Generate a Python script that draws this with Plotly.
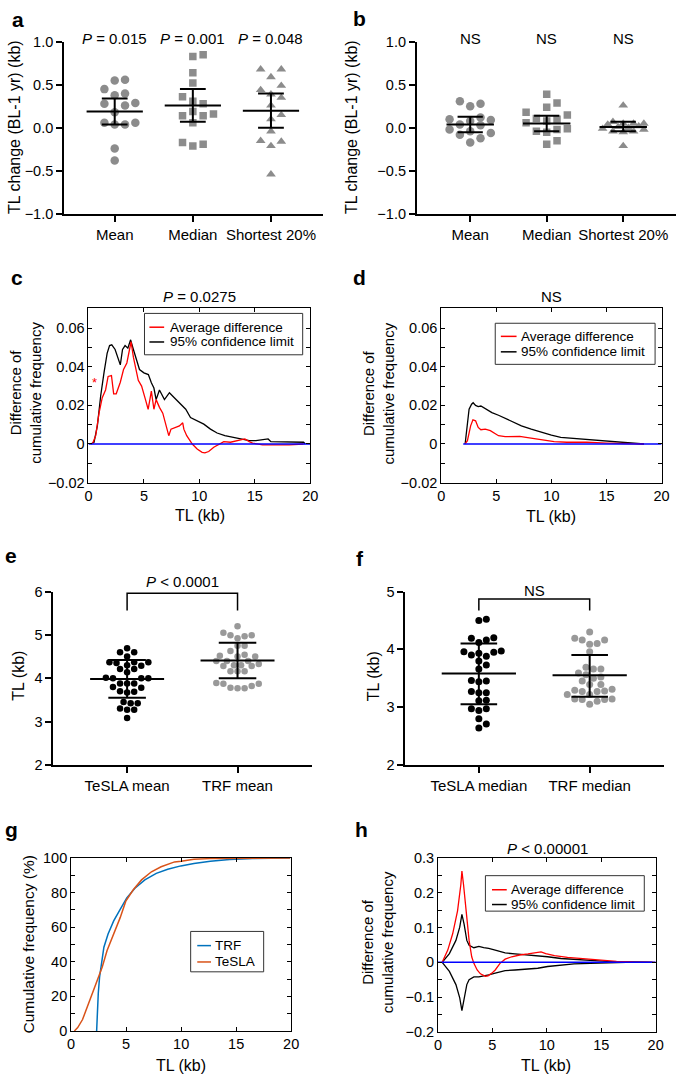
import plotly.graph_objects as go

W, H = 685, 1081
FONT = "Liberation Sans, Arial, sans-serif"
GREY = "#8c8c8c"

# ---------------- data ----------------
ab_categories = ["Mean", "Median", "Shortest 20%"]
a_mean = [0.56, 0.55, 0.45, 0.40, 0.38, 0.29, 0.26, 0.28, 0.18, 0.06, 0.04, 0.04, 0.06, -0.24, -0.38]
a_median = [0.85, 0.83, 0.64, 0.52, 0.36, 0.31, 0.28, 0.16, 0.14, 0.14, 0.19, 0.06, -0.17, -0.21, -0.19]
a_short = [0.68, 0.68, 0.59, 0.49, 0.44, 0.39, 0.35, 0.26, 0.15, 0.10, -0.04, -0.16, -0.21, -0.15, -0.54]
a_center = [0.19, 0.26, 0.20]
a_low = [0.04, 0.07, 0.00]
a_high = [0.34, 0.45, 0.40]
a_pvals = ["<i>P</i> = 0.015", "<i>P</i> = 0.001", "<i>P</i> = 0.048"]

b_mean = [0.31, 0.28, 0.25, 0.12, 0.10, 0.09, 0.08, 0.03, 0.04, -0.02, -0.04, -0.06, -0.08, -0.12, -0.17]
b_median = [0.39, 0.29, 0.24, 0.18, 0.15, 0.11, 0.10, 0.08, 0.06, -0.01, -0.04, -0.02, -0.05, -0.15, -0.19]
b_short = [0.26, 0.07, 0.05, 0.05, 0.05, 0.04, 0.02, 0.01, 0.00, -0.01, -0.02, -0.04, -0.05, -0.04, -0.21]
b_center = [0.04, 0.05, 0.01]
b_low = [-0.05, -0.04, -0.04]
b_high = [0.13, 0.14, 0.07]
b_pvals = ["NS", "NS", "NS"]

c_avg_x = [0.35, 0.65, 0.95, 1.24, 1.54, 1.77, 2.07, 2.27, 2.5, 2.87, 3.16, 3.46, 3.84, 4.05, 4.49, 4.79, 5.14,
           5.38, 5.67, 5.9, 6.1, 6.4, 6.7, 7.0, 7.24, 7.44, 7.9, 8.2, 8.5, 8.6, 8.86, 9.07, 9.36, 9.8, 10.25, 10.5,
           10.84, 11.3, 11.7, 12.2, 12.8, 13.2, 13.6, 14.1, 14.5, 14.8, 15.7, 16.6, 18.1, 19.4]
c_avg_y = [0, 0.0043, 0.016, 0.024, 0.028, 0.035, 0.0355, 0.026, 0.026, 0.032, 0.0386, 0.042, 0.053, 0.045, 0.033,
           0.030, 0.023, 0.018, 0.0274, 0.018, 0.023, 0.019, 0.016, 0.010, 0.0043, 0.0077, 0.0086, 0.0094, 0.011,
           0.0077, 0.0043, 0.0026, 0, -0.0026, -0.0043, -0.0046, -0.0039, -0.0017, -0.0005, 0.0012, 0.0009, 0.0015,
           0.0022, 0.0026, 0.0012, 0.0005, -0.0005, -0.0005, -0.0005, 0]
c_ci_x = [0.2, 0.5, 0.8, 1.1, 1.4, 1.68, 1.9, 2.1, 2.4, 2.7, 2.87, 3.07, 3.3, 3.55, 3.8, 4.05, 4.34, 4.6, 5.0, 5.4,
          5.67, 5.9, 6.1, 6.4, 6.85, 7.3, 7.74, 8.33, 8.77, 9.2, 9.8, 10.4, 11.0, 11.6, 12.3, 13.06, 13.9, 14.5, 15.1,
          15.7, 16.2, 16.45, 17.5, 19.0, 19.4, 19.55]
c_ci_y = [0, 0.0009, 0.0094, 0.025, 0.037, 0.047, 0.051, 0.0514, 0.049, 0.044, 0.041, 0.049, 0.051, 0.0497, 0.054,
          0.049, 0.044, 0.0386, 0.0369, 0.036, 0.0317, 0.029, 0.023, 0.028, 0.023, 0.0266, 0.024, 0.0206, 0.018,
          0.0137, 0.012, 0.0103, 0.0077, 0.0057, 0.0043, 0.0034, 0.0026, 0.0017, 0.0017, 0.0022, 0.0026, 0.0012,
          0.0012, 0.0012, 0.0009, 0]

d_avg_x = [2.17, 2.38, 2.67, 2.88, 3.12, 3.36, 3.6, 4.0, 4.46, 4.84, 5.2, 5.8, 6.4, 7.13, 7.7, 8.5, 9.36, 10.25,
           11.4, 13.2, 15.0, 16.8, 18.4]
d_avg_y = [0, 0.0017, 0.0094, 0.0125, 0.012, 0.0086, 0.0074, 0.0077, 0.0069, 0.0055, 0.0043, 0.0038, 0.0038, 0.0039,
           0.0034, 0.0026, 0.0021, 0.0012, 0.0009, 0.0009, 0.0005, 0.0003, 0]
d_ci_x = [2.17, 2.38, 2.53, 2.76, 2.9, 3.12, 3.36, 3.6, 4.0, 4.6, 5.2, 5.8, 6.4, 7.28, 8.17, 9.06, 10.0, 10.85, 12.0,
          13.2, 14.4, 15.9, 17.4, 18.4]
d_ci_y = [0, 0.0094, 0.018, 0.0206, 0.0214, 0.020, 0.0194, 0.0197, 0.0183, 0.0163, 0.0149, 0.0132, 0.0115, 0.0094,
          0.0077, 0.006, 0.0046, 0.0034, 0.0029, 0.0026, 0.0021, 0.0012, 0.0007, 0]

e_categories = ["TeSLA mean", "TRF mean"]
e_tesla = [4.69, 4.60, 4.60, 4.50, 4.37, 4.35, 4.37, 4.37, 4.29, 4.30, 4.21, 4.14, 4.21, 4.01, 4.00, 4.00, 4.00,
           3.88, 3.88, 3.88, 3.80, 3.70, 3.67, 3.69, 3.78, 3.42, 3.42, 3.45, 3.27, 3.27, 3.30, 3.08]
e_trf = [5.20, 4.99, 4.97, 4.99, 5.05, 4.92, 4.75, 4.75, 4.54, 4.50, 4.63, 4.50, 4.52, 4.40, 4.40, 4.40, 4.30, 4.33,
         4.28, 4.30, 4.28, 4.16, 4.16, 4.16, 3.89, 3.87, 3.87, 3.82, 3.78, 3.77, 3.77]
e_center = [3.98, 4.41]
e_low = [3.55, 4.00]
e_high = [4.42, 4.82]

f_categories = ["TeSLA median", "TRF median"]
f_tesla = [4.52, 4.50, 4.19, 4.20, 4.12, 4.16, 3.97, 3.95, 3.93, 3.88, 3.90, 3.96, 3.73, 3.80, 3.66, 3.45, 3.44,
           3.46, 3.25, 3.25, 3.27, 3.11, 3.12, 2.97, 2.94, 2.97, 2.80, 2.71, 2.64]
f_trf = [4.30, 4.16, 4.16, 4.19, 4.09, 4.10, 3.96, 3.66, 3.66, 3.69, 3.59, 3.56, 3.52, 3.50, 3.45, 3.39, 3.39, 3.31,
         3.29, 3.28, 3.27, 3.22, 3.27, 3.22, 3.14, 3.13, 3.13, 3.14, 3.05, 3.10]
f_center = [3.58, 3.55]
f_low = [3.05, 3.18]
f_high = [4.10, 3.90]

g_trf_x = [2.32, 2.38, 2.47, 2.59, 2.77, 2.98, 3.36, 3.87, 4.46, 5.06, 5.8, 6.7, 7.74, 8.78, 9.97, 11.16, 12.65,
           14.4, 16.5, 19.9]
g_trf_y = [0, 10.4, 21.8, 31.3, 40.8, 48.4, 56, 63.6, 70.2, 76.9, 82.5, 87.3, 91.1, 93.5, 95.4, 96.8, 98.1, 99.1,
           99.6, 100]
g_tesla_x = [0.3, 0.6, 1.04, 1.49, 1.93, 2.38, 2.83, 3.27, 3.87, 4.46, 4.97, 5.65, 6.4, 7.3, 8.18, 9.4, 10.0, 11.16,
             12.6, 19.9]
g_tesla_y = [0, 1.9, 6.6, 14.2, 21.8, 29.4, 37, 46.5, 56, 65.5, 75, 81.6, 87.3, 92, 94.9, 97.7, 98.1, 99.2, 99.6,
             100]

h_avg_x = [0.39, 0.9, 1.35, 1.8, 2.1, 2.2, 2.35, 2.62, 2.86, 3.1, 3.3, 3.6, 3.9, 4.36, 4.6, 4.96, 5.26, 5.7, 6.17,
           6.77, 7.5, 8.27, 9.0, 9.47, 9.9, 10.7, 11.9, 13.4, 14.9, 16.4, 17.9, 20.0]
h_avg_y = [0, 0.035, 0.082, 0.148, 0.223, 0.262, 0.223, 0.129, 0.063, 0.016, -0.003, -0.022, -0.033, -0.040,
           -0.039, -0.031, -0.022, -0.003, 0.009, 0.016, 0.021, 0.024, 0.027, 0.030, 0.025, 0.019, 0.014, 0.010,
           0.0066, 0.003, 0.001, 0]
h_ci_x = [0.39, 1.05, 1.65, 2.0, 2.2, 2.4, 2.65, 2.86, 3.3, 3.76, 4.2, 4.66, 5.26, 6.17, 7.07, 7.97, 9.17, 10.07,
          11.3, 12.5, 14.0, 15.5, 17.3, 19.7]
h_ci_up = [0, 0.025, 0.063, 0.101, 0.138, 0.11, 0.063, 0.049, 0.042, 0.046, 0.042, 0.040, 0.035, 0.027, 0.024, 0.022,
           0.020, 0.016, 0.011, 0.0085, 0.0056, 0.003, 0.001, 0]
h_ci_low = [0, -0.026, -0.064, -0.102, -0.139, -0.106, -0.064, -0.050, -0.042, -0.042, -0.040, -0.036, -0.031,
            -0.024, -0.022, -0.020, -0.017, -0.012, -0.0075, -0.0047, -0.003, -0.001, -0.0002, 0]

# ---------------- geometry (pixels) ----------------
panels = {
    "a": dict(x=(61, 325), y=(34.3, 209), xr=[-0.65, 2.67], yr=[-1, 1]),
    "b": dict(x=(420, 684), y=(34.3, 209), xr=[-0.70, 2.69], yr=[-1, 1]),
    "c": dict(x=(86, 311.7), y=(304.7, 481.7), xr=[0, 20], yr=[-0.02, 0.0704]),
    "d": dict(x=(445, 669.3), y=(304.7, 481.7), xr=[0, 20], yr=[-0.02, 0.0704]),
    "e": dict(x=(50, 313), y=(592.3, 768.3), xr=[-0.67, 1.67], yr=[2, 6]),
    "f": dict(x=(408.3, 671.7), y=(592.3, 768.3), xr=[-0.665, 1.67], yr=[2, 5]),
    "g": dict(x=(68.3, 292.3), y=(862.7, 1038.3), xr=[0, 20], yr=[0, 100]),
    "h": dict(x=(441.7, 663.3), y=(862.7, 1039.3), xr=[0, 20], yr=[-0.2, 0.3]),
}
order = ["a", "b", "c", "d", "e", "f", "g", "h"]
idx = {k: i + 1 for i, k in enumerate(order)}


def ax(k):
    i = idx[k]
    return ("x" if i == 1 else f"x{i}"), ("y" if i == 1 else f"y{i}")


def px(x):
    return x / W


def py(y):
    return 1 - y / H


def swarm(vals, kx, ky, d, maxoff):
    """Simple beeswarm: nearest-to-centre non-overlapping offset, limited to +-maxoff pixels."""
    order_ = sorted(range(len(vals)), key=lambda i: vals[i])
    placed = []
    offs = [0.0] * len(vals)
    step = d * 0.5
    cands = [0.0]
    k = 1
    while k * step <= maxoff:
        cands += [k * step, -k * step]
        k += 1
    for i in order_:
        yv = vals[i] * ky
        chosen = None
        best, best_d = 0.0, -1
        for c in cands:
            md = min([((c - p0) ** 2 + (yv - p1) ** 2) for p0, p1 in placed] or [1e9])
            if md >= d * d * 0.95:
                chosen = c
                break
            if md > best_d:
                best, best_d = c, md
        if chosen is None:
            chosen = best
        placed.append((chosen, yv))
        offs[i] = chosen / kx
    return offs


def kxy(k):
    p = panels[k]
    kx = (p["x"][1] - p["x"][0]) / (p["xr"][1] - p["xr"][0])
    ky = (p["y"][1] - p["y"][0]) / (p["yr"][1] - p["yr"][0])
    return kx, ky


fig = go.Figure()


def add_dots(k, ci, vals, symbol, color, size, d, maxoff):
    xa, ya = ax(k)
    kx, ky = kxy(k)
    offs = swarm(vals, kx, ky, d, maxoff)
    fig.add_trace(go.Scatter(x=[ci + o for o in offs], y=vals, mode="markers", xaxis=xa, yaxis=ya,
                             marker=dict(symbol=symbol, color=color, size=size, line=dict(width=0)),
                             showlegend=False, hoverinfo="y"))


def add_meanbar(k, ci, center, low, high, hw, cw, lw=2):
    xa, ya = ax(k)
    xs = [ci - hw, ci + hw, None, ci, ci, None, ci - cw, ci + cw, None, ci - cw, ci + cw]
    ys = [center, center, None, low, high, None, low, low, None, high, high]
    fig.add_trace(go.Scatter(x=xs, y=ys, mode="lines", xaxis=xa, yaxis=ya,
                             line=dict(color="black", width=lw), showlegend=False, hoverinfo="skip"))


def add_line(k, x, y, color, width=1.3):
    xa, ya = ax(k)
    fig.add_trace(go.Scatter(x=x, y=y, mode="lines", xaxis=xa, yaxis=ya,
                             line=dict(color=color, width=width), showlegend=False))


# panel a & b
for k, groups, cen, lo, hi in [("a", [a_mean, a_median, a_short], a_center, a_low, a_high),
                               ("b", [b_mean, b_median, b_short], b_center, b_low, b_high)]:
    for ci, (vals, sym, sz) in enumerate(zip(groups, ["circle", "square", "triangle-up"], [8.5, 7.5, 8.5])):
        add_dots(k, ci, vals, sym, GREY, sz, 10.5, 22)
    for ci in range(3):
        add_meanbar(k, ci, cen[ci], lo[ci], hi[ci], 0.36 if k == "a" else 0.31, 0.165)

# panel c, d
add_line("c", c_ci_x, c_ci_y, "black")
add_line("c", c_avg_x, c_avg_y, "#ff0000")
add_line("c", [0, 20], [0, 0], "#0000ff", 1.5)
add_line("d", d_ci_x, d_ci_y, "black")
add_line("d", d_avg_x, d_avg_y, "#ff0000")
add_line("d", [2.0, 20], [0, 0], "#0000ff", 1.5)

# panel e, f
add_dots("e", 0, e_tesla, "circle", "black", 6.5, 7.2, 24)
add_dots("e", 1, e_trf, "circle", "#999999", 6.5, 7.2, 24)
for ci in range(2):
    add_meanbar("e", ci, e_center[ci], e_low[ci], e_high[ci], 0.335, 0.17)
add_dots("f", 0, f_tesla, "circle", "black", 7, 7.6, 24)
add_dots("f", 1, f_trf, "circle", "#999999", 7, 7.6, 24)
for ci in range(2):
    add_meanbar("f", ci, f_center[ci], f_low[ci], f_high[ci], 0.335, 0.165)
# brackets
add_line("e", [0, 0, 1, 1], [5.56, 5.96, 5.96, 5.56], "black", 1.5)
add_line("f", [0, 0, 1, 1], [4.67, 4.87, 4.87, 4.67], "black", 1.5)

# panel g
add_line("g", g_trf_x, g_trf_y, "#0072BD", 1.5)
add_line("g", g_tesla_x, g_tesla_y, "#D95319", 1.5)

# panel h
add_line("h", h_ci_x, h_ci_up, "black")
add_line("h", h_ci_x, h_ci_low, "black")
add_line("h", h_avg_x, h_avg_y, "#ff0000")
add_line("h", [0, 20], [0, 0], "#0000ff", 1.5)

# ---------------- axes ----------------
layout = dict(width=W, height=H, margin=dict(l=0, r=0, t=0, b=0), paper_bgcolor="white", plot_bgcolor="white",
              font=dict(family=FONT, size=14, color="black"), showlegend=False)

tickfont = dict(family=FONT, size=14.5, color="black")
for k in order:
    p = panels[k]
    i = idx[k]
    xn = "xaxis" if i == 1 else f"xaxis{i}"
    yn = "yaxis" if i == 1 else f"yaxis{i}"
    xa, ya = ax(k)
    xd = [px(p["x"][0]), px(p["x"][1])]
    yd = [py(p["y"][1]), py(p["y"][0])]
    if k in ("a", "b", "e", "f"):
        cats = ab_categories if k in ("a", "b") else (e_categories if k == "e" else f_categories)
        layout[xn] = dict(domain=xd, range=p["xr"], anchor=ya, showline=True, linecolor="black", linewidth=1.5,
                          ticks="outside", ticklen=6, tickwidth=1.5, tickcolor="black",
                          tickvals=list(range(len(cats))), ticktext=cats, showgrid=False, zeroline=False,
                          tickfont=dict(family=FONT, size=15, color="black"))
        if k in ("a", "b"):
            yt = dict(tickvals=[-1, -0.5, 0, 0.5, 1], tickformat=".1f")
        elif k == "e":
            yt = dict(tickvals=[2, 3, 4, 5, 6])
        else:
            yt = dict(tickvals=[2, 3, 4, 5])
        layout[yn] = dict(domain=yd, range=p["yr"], anchor=xa, showline=True, linecolor="black", linewidth=1.5,
                          ticks="outside", ticklen=6, tickwidth=1.5, tickcolor="black", showgrid=False,
                          zeroline=False, tickfont=tickfont, **yt)
    else:
        if k in ("c", "d"):
            ydt, ymin = 0.02, 0.01
            y0 = -0.02
        elif k == "g":
            ydt, ymin = 20, 10
            y0 = 0
        else:
            ydt, ymin = 0.1, 0.05
            y0 = -0.2
        common = dict(showline=True, linecolor="black", linewidth=1, mirror="allticks", ticks="inside",
                      ticklen=4, tickwidth=1, tickcolor="black", showgrid=False, zeroline=False,
                      tickfont=tickfont)
        layout[xn] = dict(domain=xd, range=p["xr"], anchor=ya, tick0=0, dtick=5, **common)
        layout[yn] = dict(domain=yd, range=p["yr"], anchor=xa, tick0=y0, dtick=ydt,
                          minor=dict(ticks="inside", dtick=ymin, tick0=y0, ticklen=4, tickcolor="black"),
                          **common)

fig.update_layout(**layout)

# ---------------- annotations & shapes ----------------
ann = []
shapes = []


def text(x, y, s, size=14, angle=0, xanchor="center", color="black", bold=False, yanchor="middle"):
    ann.append(dict(x=px(x), y=py(y), xref="paper", yref="paper", text=(f"<b>{s}</b>" if bold else s),
                    showarrow=False, textangle=angle, xanchor=xanchor, yanchor=yanchor,
                    font=dict(family=FONT, size=size, color=color)))


# panel letters
for lab, x, y in [("a", 14, 12), ("b", 362, 11), ("c", 13, 274), ("d", 362, 274), ("e", 7, 556), ("f", 362, 559),
                  ("g", 8, 834), ("h", 364, 834)]:
    text(x, y, lab, size=21, bold=True)

# P values a, b
for k, labels in [("a", a_pvals), ("b", b_pvals)]:
    xa, ya = ax(k)
    for ci, s in enumerate(labels):
        ann.append(dict(x=ci, y=py(31), xref=xa, yref="paper", text=s, showarrow=False,
                        font=dict(family=FONT, size=15, color="black"), xanchor="center", yanchor="middle"))

# e/f bracket labels
ann.append(dict(x=0.5, y=py(581.7), xref=ax("e")[0], yref="paper", text="<i>P</i> < 0.0001", showarrow=False,
                font=dict(family=FONT, size=15, color="black")))
ann.append(dict(x=0.5, y=py(591), xref=ax("f")[0], yref="paper", text="NS", showarrow=False,
                font=dict(family=FONT, size=15, color="black")))

# titles of c, d, h
text(199, 293, "<i>P</i> = 0.0275", size=15)
text(557, 293, "NS", size=15)
text(553, 852.7, "<i>P</i> < 0.00001", size=15)

# axis titles
text(10, 121, "TL change (BL-1 yr) (kb)", size=16, angle=-90)
text(353, 121, "TL change (BL-1 yr) (kb)", size=16, angle=-90)
text(22, 391, "Difference of<br>cumulative frequency", size=15, angle=-90)
text(381, 391, "Difference of<br>cumulative frequency", size=15, angle=-90)
text(199, 515, "TL (kb)", size=16)
text(557, 516, "TL (kb)", size=16)
text(15, 678, "TL (kb)", size=16, angle=-90)
text(377, 678, "TL (kb)", size=16, angle=-90)
text(25, 951, "Cumulative frequency (%)", size=15.5, angle=-90)
text(180, 1073, "TL (kb)", size=16)
text(381, 948, "Difference of<br>cumulative frequency", size=15, angle=-90)
text(552, 1073, "TL (kb)", size=16)

# red asterisk in c
ann.append(dict(x=0.55, y=0.0318, xref=ax("c")[0], yref=ax("c")[1], text="*", showarrow=False,
                font=dict(family=FONT, size=13, color="#ff0000")))


# manual legends
def legend_box(x0, x1, y0, y1, items, lx0, lx1, tx, size=13.5):
    shapes.append(dict(type="rect", xref="paper", yref="paper", x0=px(x0), x1=px(x1), y0=py(y1), y1=py(y0),
                       line=dict(color="#333333", width=1), fillcolor="white", layer="above"))
    for (label, color, yy) in items:
        shapes.append(dict(type="line", xref="paper", yref="paper", x0=px(lx0), x1=px(lx1), y0=py(yy), y1=py(yy),
                           line=dict(color=color, width=1.5), layer="above"))
        text(tx, yy, label, size=size, xanchor="left")


legend_box(143, 304, 310, 352, [("Average difference", "#ff0000", 324), ("95% confidence limit", "black", 339)],
           148, 163, 167)
legend_box(500, 662.7, 320, 361.7, [("Average difference", "#ff0000", 333.3), ("95% confidence limit", "black", 349)],
           505.7, 521.7, 524.5)
legend_box(190, 264.3, 937.3, 978.3, [("TRF", "#0072BD", 951.7), ("TeSLA", "#D95319", 968.3)],
           196.7, 210.7, 212.5)
legend_box(490, 651.7, 880.7, 916.7, [("Average difference", "#ff0000", 895), ("95% confidence limit", "black", 910)],
           496.7, 511.7, 514.5)

fig.update_layout(annotations=ann, shapes=shapes)
fig.write_html("out.html", config={"displayModeBar": False},
               post_script="document.body.style.margin='0px';document.body.style.overflow='hidden';")
